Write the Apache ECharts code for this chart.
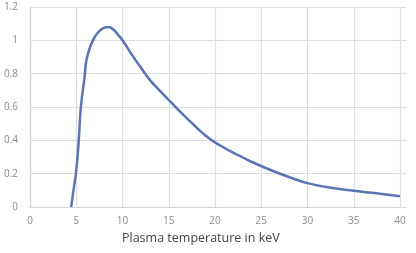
<!DOCTYPE html>
<html><head><meta charset="utf-8">
<script src="https://cdn.jsdelivr.net/npm/echarts@6/dist/echarts.min.js"></script>
<style>html,body{margin:0;padding:0;background:#fff}#c{width:416px;height:253px}</style>
</head><body><div id="c"></div>
<script>
const temperature = [4.45, 4.7, 5.0, 5.27, 5.5, 5.9, 6.1, 6.5, 7, 7.5, 8, 8.5, 9, 9.5, 10, 11, 12, 13, 14, 15, 16, 17, 18, 19, 20, 21, 22, 23, 24, 26, 28, 30, 32, 35, 37, 40];
const reactivity  = [0, 0.1, 0.22, 0.4, 0.6, 0.78, 0.88, 0.96, 1.02, 1.055, 1.075, 1.08, 1.065, 1.035, 1.0, 0.915, 0.835, 0.76, 0.7, 0.642, 0.585, 0.53, 0.477, 0.428, 0.388, 0.355, 0.325, 0.297, 0.27, 0.222, 0.18, 0.143, 0.12, 0.097, 0.085, 0.065];
const xTicks = [0, 5, 10, 15, 20, 25, 30, 35, 40];
const yTicks = [0, 0.2, 0.4, 0.6, 0.8, 1, 1.2];
const xAxisTitle = 'Plasma temperature in keV';

const grid = '#dedede';
const chart = echarts.init(document.getElementById('c'), null, {renderer: 'canvas'});
chart.setOption({
  animation: false,
  grid: [
    {left: 30, right: 16, top: 7, bottom: 46},
    {left: 30, right: 10, top: 7, bottom: 46}
  ],
  xAxis: [
    {type: 'value', gridIndex: 0, min: xTicks[0], max: xTicks[xTicks.length-1], interval: 5,
     axisLine: {show: true, lineStyle: {color: '#d4d4d4', width: 1.2}},
     axisTick: {show: false},
     splitLine: {show: true, lineStyle: {color: grid, width: 1.2}},
     axisLabel: {color: '#8a8a8a', fontSize: 10, margin: 9, fontFamily: 'Open Sans'}},
    {type: 'value', gridIndex: 1, min: 0, max: 1, show: false, splitLine: {show: false}}
  ],
  yAxis: [
    {type: 'value', gridIndex: 0, min: yTicks[0], max: yTicks[yTicks.length-1], interval: 0.2,
     axisLine: {show: true, lineStyle: {color: '#d4d4d4', width: 1.2}},
     axisTick: {show: false},
     splitLine: {show: false},
     axisLabel: {color: '#8a8a8a', fontSize: 10, margin: 12, fontFamily: 'Open Sans'}},
    {type: 'value', gridIndex: 1, min: yTicks[0], max: yTicks[yTicks.length-1], interval: 0.2,
     axisLine: {show: false}, axisTick: {show: false}, axisLabel: {show: false},
     splitLine: {show: true, lineStyle: {color: grid, width: 1.2}}}
  ],
  graphic: [{
    type: 'text', left: 202 - 80, top: 232,
    style: {text: xAxisTitle, fill: '#444', font: '12.5px "Open Sans"', textAlign: 'left'}
  }],
  series: [{
    type: 'line', xAxisIndex: 0, yAxisIndex: 0, z: 5,
    data: temperature.map((t, i) => [t, reactivity[i]]),
    showSymbol: false, smooth: 0.5,
    lineStyle: {color: '#5a74b5', width: 2.5}
  }]
});
</script></body></html>
